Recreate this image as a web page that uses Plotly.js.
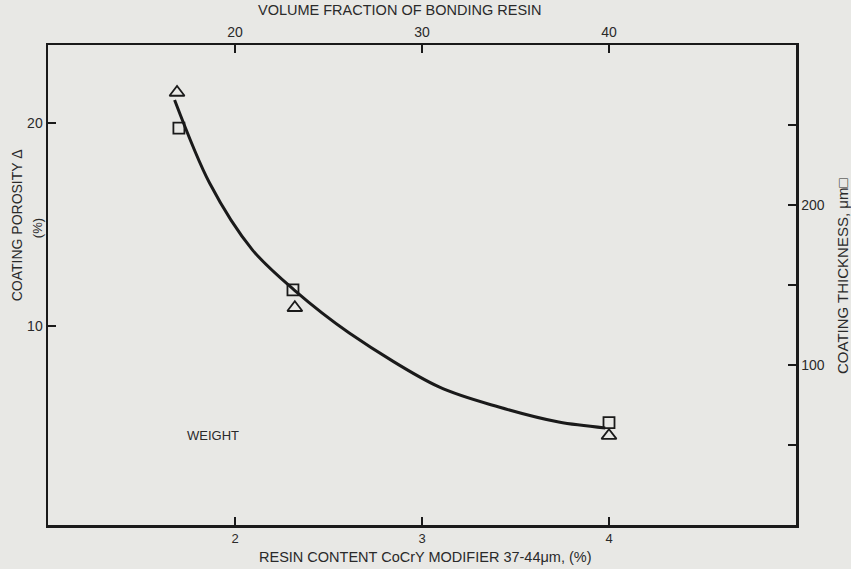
<!DOCTYPE html>
<html>
<head>
<meta charset="utf-8">
<script src="https://cdn.plot.ly/plotly-3.0.1.min.js"></script>
<style>html,body{margin:0;padding:0;background:#e8e8e5;}#chart{width:851px;height:569px;}</style>
</head>
<body>
<div id="chart"></div>
<script>
// Resin content (wt %) for measured points
const resinX = [1.69, 2.32, 4.0];
const resinXsq = [1.70, 2.31, 4.0];
// Coating porosity (%) - triangles, left axis
const porosity = [21.5, 10.9, 4.6];
// Coating thickness (um) - squares, right axis
const thickness = [248, 147, 64];
// Fitted curve (porosity scale)
const curveX = [1.677, 1.864, 2.093, 2.317, 2.611, 3.091, 3.411, 3.731, 3.98];
const curveY = [21.13, 17.04, 13.75, 11.77, 9.66, 7.00, 6.01, 5.27, 4.98];
// Tick labels
const bottomTicks = [2, 3, 4];
const topTicks = [20, 30, 40];
const leftTicks = [10, 20];
const rightTicks = [50, 100, 150, 200, 250];
const rightTickText = ['', '100', '', '200', ''];

const ink = '#1a1a1a';
const fam = 'Liberation Sans, Arial, sans-serif';
const txt = '#2a2a2a';
const font = {family: fam, size: 14, color: txt};

const traces = [
  {x: curveX, y: curveY, mode: 'lines', line: {color: ink, width: 3, shape: 'spline', smoothing: 0.9}, xaxis: 'x', yaxis: 'y', hoverinfo: 'skip'},
  {x: resinX, y: porosity, mode: 'markers', marker: {symbol: 'triangle-up-open', size: 13, color: ink, line: {width: 1.8, color: ink}}, xaxis: 'x', yaxis: 'y'},
  {x: resinXsq, y: thickness, mode: 'markers', marker: {symbol: 'square-open', size: 11, color: ink, line: {width: 1.8, color: ink}}, xaxis: 'x', yaxis: 'y2'},
  {x: [], y: [], xaxis: 'x2', yaxis: 'y', mode: 'markers', hoverinfo: 'skip'}
];

const axCommon = {ticks: 'inside', ticklen: 8, tickwidth: 2, tickcolor: ink, showline: true, linecolor: ink, linewidth: 2.5, showgrid: false, zeroline: false, tickfont: font};

const layout = {
  width: 851, height: 569,
  paper_bgcolor: '#e8e8e5', plot_bgcolor: '#e8e8e5',
  showlegend: false,
  font: font,
  margin: {l: 48, r: 55, t: 45, b: 44},
  xaxis: Object.assign({}, axCommon, {range: [1, 5], tickvals: bottomTicks, tickfont: {family: fam, size: 13, color: txt}}),
  xaxis2: Object.assign({overlaying: 'x', side: 'top', anchor: 'y', range: [10, 50], tickvals: topTicks}, axCommon),
  yaxis: Object.assign({range: [0.2, 23.84], tickvals: leftTicks}, axCommon),
  yaxis2: Object.assign({overlaying: 'y', side: 'right', anchor: 'x', range: [0, 300], tickvals: rightTicks, ticktext: rightTickText}, axCommon),
  annotations: [
    {text: 'VOLUME FRACTION OF BONDING RESIN', xref: 'paper', yref: 'paper', x: 0.470, y: 1.073, showarrow: false, font: {family: fam, size: 14.5, color: txt}, xanchor: 'center', yanchor: 'middle'},
    {text: 'RESIN CONTENT CoCrY MODIFIER 37-44\u03bcm, (%)', xref: 'paper', yref: 'paper', x: 0.505, y: -0.066, showarrow: false, font: {family: fam, size: 14.5, color: txt}, xanchor: 'center', yanchor: 'middle'},
    {text: 'COATING POROSITY \u0394', xref: 'paper', yref: 'paper', x: -0.041, y: 0.625, textangle: -90, showarrow: false, font: {family: fam, size: 14, color: txt}, xanchor: 'center', yanchor: 'middle'},
    {text: '(%)', xref: 'paper', yref: 'paper', x: -0.013, y: 0.619, textangle: -90, showarrow: false, font: {family: fam, size: 13, color: txt}, xanchor: 'center', yanchor: 'middle'},
    {text: 'COATING THICKNESS, \u03bcm\u25a1', xref: 'paper', yref: 'paper', x: 1.063, y: 0.519, textangle: -90, showarrow: false, font: {family: fam, size: 15, color: txt}, xanchor: 'center', yanchor: 'middle'},
    {text: 'WEIGHT', xref: 'x', yref: 'y', x: 1.88, y: 4.6, showarrow: false, font: {family: fam, size: 13, color: txt}}
  ]
};

Plotly.newPlot('chart', traces, layout, {staticPlot: true});
</script>
</body>
</html>
